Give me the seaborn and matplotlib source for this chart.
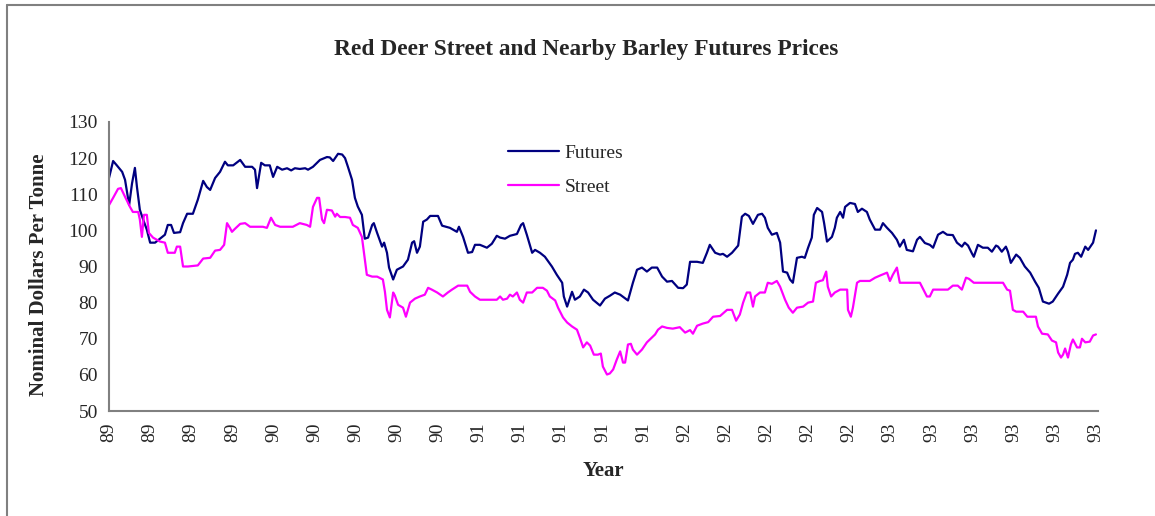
import matplotlib
matplotlib.use("Agg")
import matplotlib.pyplot as plt
from matplotlib.lines import Line2D
import seaborn as sns
import numpy as np
import pandas as pd

# Data: x = week number from the start of the series
fut_week = [0, 1.0, 1.9, 3.2, 3.9, 4.9, 5.6, 6.3, 6.8, 7.5, 8.3, 9.2, 10.0, 11.2, 12.4, 13.6,
            14.3, 15.1, 15.8, 17.3, 18.0, 19.0, 20.4, 21.6, 22.9, 23.8, 24.6, 25.8, 27.0, 28.2,
            28.9, 30.2, 31.9, 33.1, 34.8, 35.5, 36.0, 37.0, 37.9, 39.1, 39.9, 40.9, 42.1, 43.3,
            44.3, 45.2, 46.4, 47.7, 48.4, 49.6, 51.3, 53.0, 53.7, 54.5, 55.7, 56.7, 57.4, 58.1,
            59.1, 59.8, 60.5, 61.5, 62.2, 63.0, 64.0, 64.4, 65.2, 66.4, 66.9, 67.6, 68.1, 69.1,
            70.0, 71.5, 72.7, 73.7, 74.2, 74.9, 75.6, 76.4, 77.3, 78.1, 80.0, 81.0, 82.9, 84.6,
            85.1, 86.1, 87.3, 88.3, 89.0, 90.2, 91.9, 93.1, 94.3, 95.1, 96.3, 97.5, 99.2, 100.2,
            100.7, 101.6, 102.9, 103.6, 104.8, 106.0, 107.7, 108.9, 110.2, 110.6, 111.4, 112.6,
            113.3, 114.5, 115.5, 116.5, 117.7, 119.4, 120.6, 121.8, 123.0, 124.3, 126.2, 127.4,
            128.4, 129.6, 130.8, 132.0, 133.3, 134.5, 135.7, 136.9, 138.4, 139.6, 140.5, 141.3,
            143.0, 144.4, 145.4, 146.1, 147.4, 148.6, 149.3, 150.3, 151.5, 153.0, 153.9, 154.7,
            155.6, 156.6, 157.8, 158.8, 159.5, 160.2, 161.2, 162.4, 163.2, 163.9, 164.9, 165.6,
            166.3, 167.3, 168.5, 169.2, 170.0, 170.9, 171.4, 172.2, 173.4, 173.9, 174.6, 175.8,
            176.5, 177.0, 177.8, 178.5, 179.0, 180.2, 181.4, 182.1, 183.1, 184.3, 185.0, 186.3,
            187.5, 188.2, 189.2, 190.4, 191.6, 192.3, 193.3, 194.0, 195.5, 196.5, 197.2, 198.4,
            199.6, 200.4, 201.6, 202.8, 203.8, 205.2, 206.2, 207.4, 208.1, 208.9, 209.9, 210.3,
            211.3, 212.5, 213.7, 214.7, 215.7, 216.2, 217.1, 218.1, 218.6, 219.3, 220.6, 221.5,
            222.7, 224.0, 225.2, 226.1, 227.1, 228.6, 229.5, 230.8, 232.0, 233.0, 233.7, 234.4,
            234.9, 235.6, 236.4, 237.4, 238.1, 239.3, 240]
fut_price = [114.5, 119.2, 118, 116.2, 114, 107, 113, 117.3, 112, 105.7, 103, 100.2, 96.6, 96.6,
             97.7, 98.8, 101.5, 101.5, 99.3, 99.5, 102, 104.6, 104.6, 108.5, 113.7, 112, 111.2,
             114.5, 116.2, 119, 118, 118, 119.5, 117.6, 117.6, 116.8, 111.7, 118.7, 118, 118,
             114.8, 117.6, 116.8, 117.2, 116.6, 117.2, 117, 117.2, 116.8, 117.6, 119.5, 120.3,
             120.2, 119.2, 121.2, 121, 120, 117.6, 114, 109, 106.6, 104.3, 97.7, 98, 101.5, 102,
             99.3, 95.5, 96.6, 93.8, 89.7, 86.4, 89.1, 90, 91.9, 96.6, 97, 93.8, 95.5, 102.4, 103,
             104, 104, 101.3, 100.7, 99.6, 101, 98.2, 93.8, 94, 96, 96, 95.2, 96.3, 98.5, 98,
             97.7, 98.5, 99, 101.5, 102, 98.8, 93.8, 94.6, 93.8, 92.7, 90, 87.7, 85.5, 81.7, 78.9,
             83, 80.8, 81.7, 83.6, 82.8, 80.8, 79.2, 81.1, 81.9, 82.8, 82.2, 80.6, 85.5, 89.1,
             89.7, 88.6, 89.7, 89.7, 87.2, 85.8, 86, 84.1, 84, 85, 91.3, 91.3, 91, 93.8, 96, 93.8,
             93.3, 93.5, 92.7, 93.8, 95.8, 103.8, 104.6, 104, 101.8, 104.3, 104.6, 103.5, 100.7,
             98.8, 99.3, 96.6, 88.6, 88.3, 86.4, 85.5, 92.4, 92.7, 92.4, 95.2, 98, 104.3, 106.2,
             105.1, 102, 96.9, 98.2, 100.7, 103.5, 105.1, 103.5, 106.5, 107.6, 107.3, 105.1, 106,
             105.1, 103, 100.2, 100.2, 102, 100.7, 99.3, 97.4, 95.5, 97.4, 94.6, 94.2, 97.4, 98.2,
             96.5, 96, 95.2, 98.8, 99.6, 98.8, 98.7, 96.6, 95.5, 96.6, 95.8, 93.5, 92.7, 96, 95.2,
             95.2, 94.1, 95.8, 95.5, 94.1, 95.5, 94.1, 91, 93.3, 92.4, 90, 88.3, 85.8, 84.1, 80.3,
             79.7, 80.3, 82.5, 84.4, 87.7, 91, 91.9, 93.5, 93.8, 92.7, 95.5, 94.6, 96.6, 100]

str_week = [0, 1.0, 2.2, 2.9, 3.9, 5.1, 5.8, 7.1, 7.5, 8.0, 8.5, 9.2, 9.7, 10.7, 12.4, 13.6, 14.3,
            16.0, 16.5, 17.3, 18.0, 19.2, 21.6, 22.9, 24.6, 25.8, 27.0, 28.0, 28.7, 29.4, 29.9,
            30.6, 31.9, 33.1, 34.3, 37.4, 38.4, 39.4, 40.4, 41.6, 44.7, 46.4, 48.1, 48.9, 49.6,
            50.6, 51.1, 51.8, 52.3, 53.0, 54.2, 55.0, 55.4, 56.2, 57.4, 58.6, 59.3, 60.5, 61.5,
            62.0, 62.7, 64.0, 65.2, 66.6, 67.1, 67.6, 68.3, 69.1, 69.5, 70.3, 71.5, 72.2, 73.2,
            74.4, 75.6, 76.8, 77.6, 78.5, 79.8, 81.2, 82.4, 83.4, 84.9, 87.1, 87.8, 89.0, 90.2,
            94.3, 95.1, 95.8, 96.8, 97.5, 98.2, 99.2, 99.9, 100.7, 101.6, 102.9, 104.1, 105.5,
            106.5, 107.2, 108.5, 109.2, 110.4, 111.4, 112.6, 113.8, 114.5, 115.3, 116.2, 117.0,
            117.9, 118.9, 119.6, 120.1, 121.1, 121.8, 122.6, 123.5, 124.3, 125.0, 125.5, 126.2,
            126.9, 127.4, 128.4, 129.6, 130.8, 132.0, 132.8, 133.5, 134.5, 135.7, 137.1, 138.8,
            140.1, 141.3, 142.0, 143.0, 144.4, 145.7, 146.9, 148.6, 150.3, 151.5, 152.5, 153.4,
            154.2, 155.1, 155.9, 156.6, 157.1, 158.3, 159.5, 160.2, 161.2, 162.4, 163.2, 164.4,
            165.3, 166.3, 167.3, 168.8, 170.0, 171.2, 171.9, 172.9, 173.6, 174.4, 174.8, 175.6,
            176.5, 177.8, 179.5, 179.7, 180.4, 180.9, 181.9, 182.6, 185.0, 186.3, 187.5, 189.2,
            189.9, 190.6, 191.6, 192.3, 197.2, 198.9, 199.6, 200.4, 204.0, 205.2, 206.4, 207.4,
            208.4, 209.1, 210.3, 217.4, 218.4, 219.1, 219.8, 220.6, 222.3, 223.3, 225.4, 225.9,
            226.9, 228.3, 229.3, 230.3, 230.8, 231.5, 232.0, 232.5, 233.2, 233.9, 234.4, 235.4,
            236.1, 236.6, 237.4, 238.5, 239.3, 240]
str_price = [107, 109, 111.5, 111.7, 109.3, 106.5, 105.1, 105.1, 103, 98.2, 104.3, 104.3, 99.3, 98,
             96.9, 96.6, 93.8, 93.8, 95.5, 95.5, 90, 90, 90.3, 92.2, 92.4, 94.4, 94.6, 96, 102,
             100.7, 99.6, 100.4, 101.8, 102, 101, 101, 100.7, 103.5, 101.5, 101, 101, 102, 101.5,
             101, 106.5, 109, 109, 103, 102, 105.7, 105.5, 103.8, 104.6, 103.7, 103.7, 103.5,
             101.5, 100.7, 98.2, 93.8, 87.7, 87.2, 87.2, 86.4, 83, 78, 75.9, 82.8, 82, 79.4, 78.6,
             76.1, 80, 81.1, 81.7, 82.2, 84.1, 83.6, 82.8, 81.7, 82.8, 83.6, 84.7, 84.7, 83, 81.7,
             80.8, 80.8, 81.7, 80.8, 81.1, 82.2, 81.7, 82.8, 80.8, 80, 82.8, 82.8, 84.1, 84.1,
             83.3, 81.7, 80.6, 78.6, 75.9, 74.5, 73.4, 72.5, 70.3, 67.6, 69, 68.1, 65.6, 65.6,
             65.9, 62.3, 60.1, 60.4, 61.5, 64.3, 66.5, 63.4, 63.4, 68.4, 68.6, 67, 65.6, 67, 69,
             70.3, 71.2, 72.5, 73.4, 73, 72.8, 73.2, 71.7, 72.4, 71.4, 73.6, 74.2, 74.6, 76.1,
             76.3, 78, 78, 75, 76.7, 80, 82.8, 82.8, 78.9, 81.7, 82.8, 82.8, 85.5, 85.2, 86, 84.4,
             80.8, 78.6, 77.2, 78.6, 78.9, 80, 80.3, 85.5, 86, 86.2, 88.6, 84.4, 81.7, 82.8, 83.6,
             83.6, 78, 76.1, 78.6, 85.5, 86, 86, 86.9, 87.5, 88.3, 86, 87.7, 89.7, 85.5, 85.5,
             81.7, 81.7, 83.6, 83.6, 84.7, 84.7, 83.6, 86.9, 86.6, 85.5, 85.5, 83.6, 83.3, 78,
             77.5, 77.5, 76.1, 76.1, 73.4, 71.4, 71.2, 69.5, 69, 66.2, 64.8, 65.6, 67.3, 64.8,
             68.4, 69.8, 67.6, 67.6, 70, 69, 69.2, 70.9, 71.2]

label_weeks = list(range(0, 241, 10))
year_labels = ["89"] * 4 + ["90"] * 5 + ["91"] * 5 + ["92"] * 5 + ["93"] * 6
year_ticks = [0, 52, 104, 156, 208]

fut = pd.DataFrame({"week": fut_week, "price": fut_price, "series": "Futures"})
street = pd.DataFrame({"week": str_week, "price": str_price, "series": "Street"})
df = pd.concat([fut, street], ignore_index=True)

sns.set_style("white")
plt.rcParams["font.family"] = ["Liberation Serif", "DejaVu Serif"]

fig = plt.figure(figsize=(11.55, 5.16), dpi=100)
ax = fig.add_axes([109 / 1155, 1 - 411 / 516, (1098 - 109) / 1155, (411 - 122) / 516])

sns.lineplot(data=df, x="week", y="price", hue="series", estimator=None, sort=False,
             palette={"Futures": "#000080", "Street": "#FF00FF"}, linewidth=1.6, ax=ax)

ax.set_xlim(0, 240.5)
ax.set_ylim(50, 130)
ax.set_yticks(range(50, 131, 10))
ax.tick_params(axis="y", direction="inout", length=8, width=1, color="black",
               labelsize=14, pad=4)

ax.xaxis.remove_overlapping_locs = False
ax.set_xticks(year_ticks)
ax.set_xticklabels([])
ax.set_xticks(label_weeks, minor=True)
ax.set_xticklabels(year_labels, minor=True, rotation=90)
ax.tick_params(axis="x", which="major", direction="inout", length=10, width=1, color="black")
ax.tick_params(axis="x", which="minor", length=0, labelsize=14, pad=8)

for s in ["top", "right"]:
    ax.spines[s].set_visible(False)
for s in ["left", "bottom"]:
    ax.spines[s].set_color("#808080")
    ax.spines[s].set_linewidth(1.5)

ax.set_xlabel("Year", fontsize=15, fontweight="bold", labelpad=14)
ax.set_ylabel("Nominal Dollars Per Tonne", fontsize=15, fontweight="bold")
ax.yaxis.set_label_coords(-60 / 989, 0.47)

fig.suptitle("Red Deer Street and Nearby Barley Futures Prices", x=586 / 1155, y=1 - 50 / 516,
             va="center", fontsize=16.8, fontweight="bold")

ax.legend(frameon=False, loc="upper left", bbox_to_anchor=(508 / 1155, 1 - 144 / 516),
          bbox_transform=fig.transFigure, fontsize=14, handlelength=2.6, handletextpad=0.3,
          labelspacing=0.85, borderpad=0, borderaxespad=0)

# chart area border (top and left edges)
fig.add_artist(Line2D([7 / 1155, 1], [1 - 5 / 516, 1 - 5 / 516], color="#808080", lw=1.5,
                      transform=fig.transFigure))
fig.add_artist(Line2D([7 / 1155, 7 / 1155], [0, 1 - 5 / 516], color="#808080", lw=1.5,
                      transform=fig.transFigure))

fig.savefig("out.png", dpi=100)
